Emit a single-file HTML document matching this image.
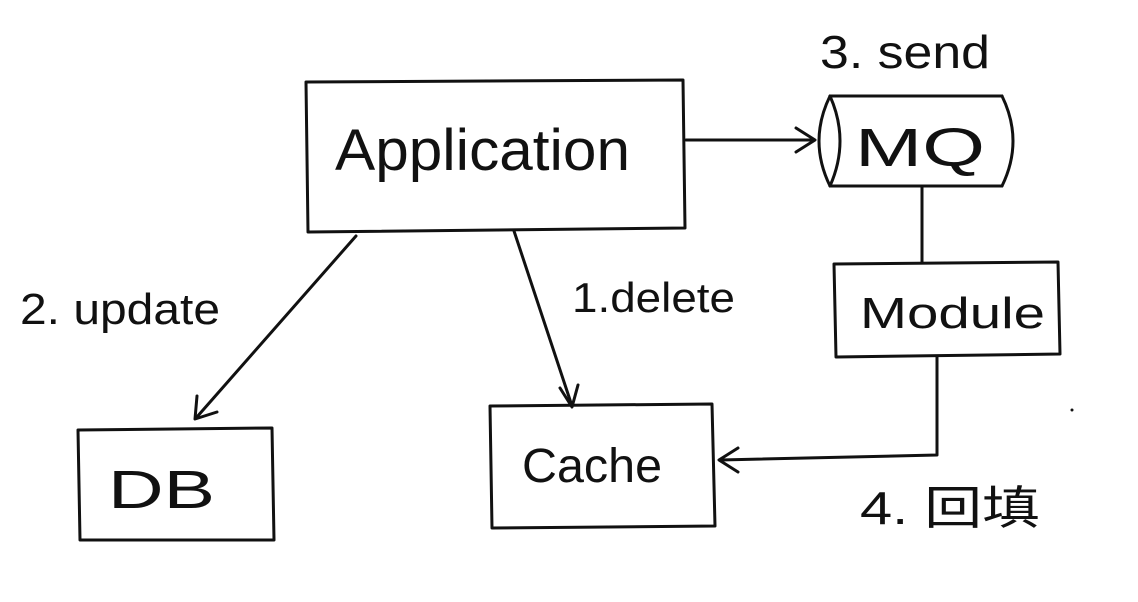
<!DOCTYPE html>
<html><head><meta charset="utf-8"><style>
html,body{margin:0;padding:0;background:#fff;}
svg{display:block;}
text{font-family:"Liberation Sans","Noto Sans CJK SC",sans-serif;fill:#111;}
</style></head><body>
<svg width="1138" height="602" viewBox="0 0 1138 602" xmlns="http://www.w3.org/2000/svg">
<g fill="none" stroke="#111" stroke-width="3" stroke-linecap="round" stroke-linejoin="round">
<path d="M306 82 L683 80 L685 228 L308 232 Z"/>
<path d="M830 96 L1002 96 M830 186 L1002 186"/>
<path d="M830 96 Q808 141 830 186"/>
<path d="M830 96 Q850 141 830 186"/>
<path d="M1002 96 Q1024 141 1002 186"/>
<path d="M834 264 L1058 262 L1060 354 L836 357 Z"/>
<path d="M78 430 L272 428 L274 540 L80 540 Z"/>
<path d="M490 406 L712 404 L715 526 L492 528 Z"/>
<path d="M686 140 L814 140"/>
<path d="M796 128 L815 140 L796 152"/>
<path d="M922 187 L922 262"/>
<path d="M937 357 L937 455 L720 460"/>
<path d="M738 448 L719 460 L738 472"/>
<path d="M356 236 L196 418"/>
<path d="M197 396 L195 419 L217 412"/>
<path d="M514 231 L572 406"/>
<path d="M560 388 L572 407 L578 385"/>
</g>
<text x="335" y="170" font-size="58" textLength="295" lengthAdjust="spacingAndGlyphs">Application</text>
<text x="855" y="166" font-size="54" textLength="130" lengthAdjust="spacingAndGlyphs">MQ</text>
<text x="860" y="328" font-size="44" textLength="185" lengthAdjust="spacingAndGlyphs">Module</text>
<text x="108" y="508" font-size="54" textLength="107" lengthAdjust="spacingAndGlyphs">DB</text>
<text x="522" y="482" font-size="48" textLength="140" lengthAdjust="spacingAndGlyphs">Cache</text>
<text x="820" y="68" font-size="46" textLength="170" lengthAdjust="spacingAndGlyphs">3. send</text>
<text x="20" y="324" font-size="44" textLength="200" lengthAdjust="spacingAndGlyphs">2. update</text>
<text x="572" y="312" font-size="42" textLength="163" lengthAdjust="spacingAndGlyphs">1.delete</text>
<text x="860" y="524" font-size="46" textLength="180" lengthAdjust="spacingAndGlyphs">4. 回填</text>
<circle cx="1072" cy="410" r="1.5" fill="#111"/>
</svg>
</body></html>
